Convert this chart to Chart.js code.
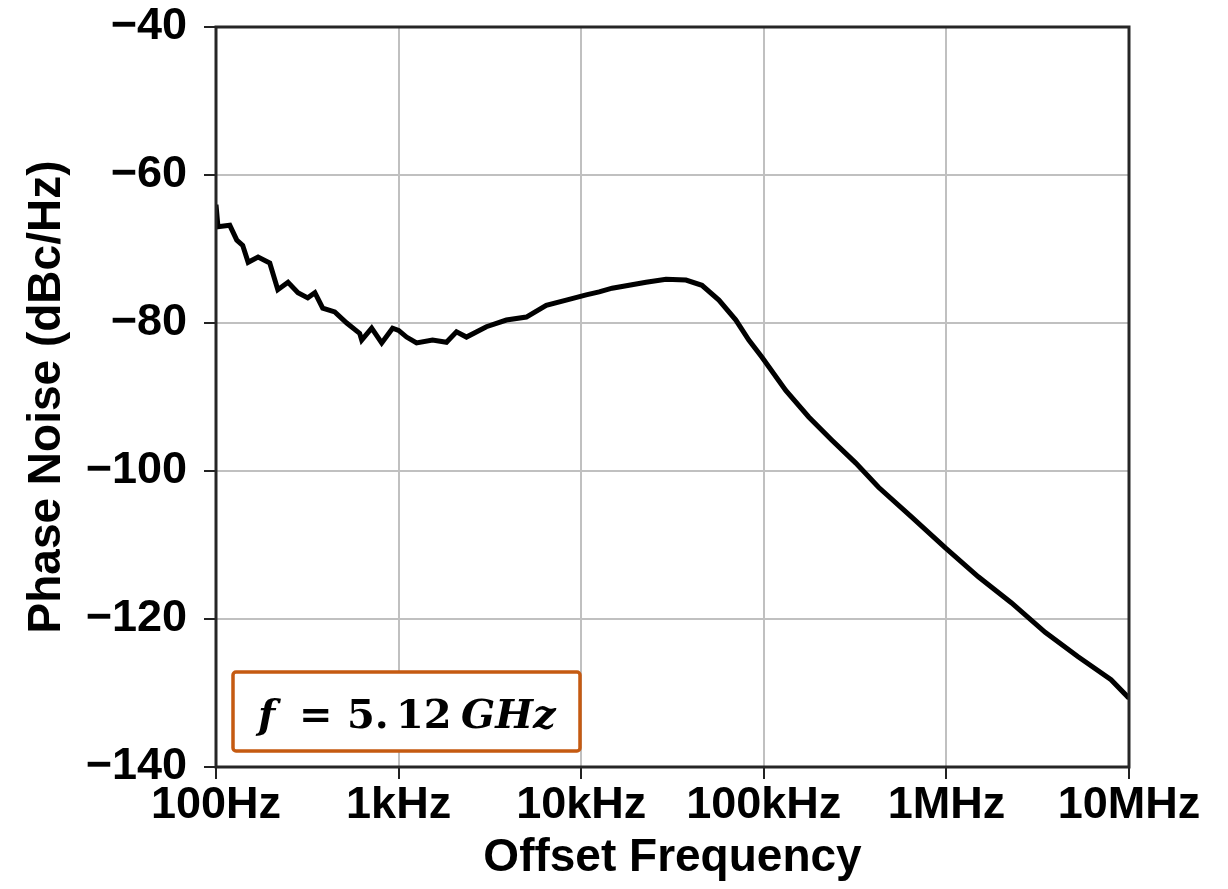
<!DOCTYPE html>
<html>
<head>
<meta charset="utf-8">
<script src="https://cdn.jsdelivr.net/npm/chart.js@4"></script>
<style>
  html, body { margin: 0; padding: 0; background: #fff; }
  #wrap { width: 1228px; height: 889px; }
</style>
</head>
<body>
<div id="wrap"><canvas id="pnChart" width="1228" height="889"></canvas></div>
<script>
// offset frequency (Hz) and measured phase noise (dBc/Hz)
const freqs = [100, 102.5, 119, 130, 140, 150, 170, 197, 218, 248, 281, 318, 348, 384, 447, 520, 612, 628, 712, 808, 927,
    1000, 1106, 1254, 1534, 1829, 2075, 2353, 3026, 3892, 5006, 6437, 8279, 10650, 12540, 14770, 22660, 29140, 37480,
    45840, 56770, 70310, 82790, 97520, 131900, 176200, 235300, 318200, 425000, 643700, 987400, 1496000, 2266000,
    3475000, 5264000, 7973000, 10000000];
const phaseNoise = [-64, -67.0, -66.8, -68.8, -69.5, -71.8, -71.1, -71.9, -75.5, -74.5, -75.9, -76.6, -75.9, -78.0, -78.5,
    -80.0, -81.4, -82.3, -80.7, -82.7, -80.7, -81.0, -81.9, -82.7, -82.3, -82.6, -81.2, -81.9, -80.5, -79.6, -79.2,
    -77.6, -76.9, -76.2, -75.8, -75.3, -74.5, -74.1, -74.2, -74.9, -76.9, -79.6, -82.3, -84.6, -89.1, -92.7, -95.8,
    -98.9, -102.2, -106.2, -110.4, -114.3, -117.8, -121.8, -125.1, -128.2, -130.7];

const xTickValues = [100, 1000, 10000, 100000, 1000000, 10000000];
const xTickLabels = ["100Hz", "1kHz", "10kHz", "100kHz", "1MHz", "10MHz"];
const yTickValues = [-140, -120, -100, -80, -60, -40];

const labelFont = { family: '"Liberation Sans", Arial, sans-serif', size: 45, weight: 'bold' };
const titleFont = { family: '"Liberation Sans", Arial, sans-serif', size: 46, weight: 'bold' };

// box around the plot area
const framePlugin = {
    id: 'frame',
    afterDatasetsDraw(chart) {
        const { ctx, chartArea: a } = chart;
        ctx.save();
        ctx.strokeStyle = '#262626';
        ctx.lineWidth = 3;
        ctx.strokeRect(a.left, a.top, a.right - a.left, a.bottom - a.top);
        ctx.restore();
    }
};

// "f = 5.12 GHz" label box in the lower left corner
const noteBox = {
    id: 'noteBox',
    afterDraw(chart) {
        const { ctx, chartArea: a } = chart;
        const x = a.left + 17, y = a.bottom - 95, w = 347, h = 79;
        ctx.save();
        ctx.fillStyle = '#fff';
        ctx.strokeStyle = '#c55a11';
        ctx.lineWidth = 3.5;
        ctx.beginPath();
        ctx.roundRect(x, y, w, h, 3);
        ctx.fill();
        ctx.stroke();

        // math-style spacing, like an equation object
        const fam = '"DejaVu Serif", "Liberation Serif", serif';
        const parts = [
            { t: 'f', style: 'italic bold', dx: 25 },
            { t: '=', style: 'bold', dx: 66 },
            { t: '5.', style: 'bold', dx: 114 },
            { t: '12', style: 'bold', dx: 163 },
            { t: 'GHz', style: 'italic bold', dx: 228 }
        ];
        ctx.fillStyle = '#000';
        ctx.textBaseline = 'alphabetic';
        parts.forEach(p => {
            ctx.font = `${p.style} 40px ${fam}`;
            ctx.fillText(p.t, x + p.dx, y + 56);
        });
        ctx.restore();
    }
};

const ctx = document.getElementById('pnChart').getContext('2d');
new Chart(ctx, {
    type: 'line',
    data: {
        datasets: [{
            data: freqs.map((f, i) => ({ x: f, y: phaseNoise[i] })),
            borderColor: '#000',
            borderWidth: 5,
            pointRadius: 0,
            tension: 0,
            fill: false
        }]
    },
    options: {
        responsive: false,
        animation: false,
        layout: { padding: { top: 27, right: 99, left: 0, bottom: 0 } },
        plugins: {
            legend: { display: false },
            tooltip: { enabled: false }
        },
        scales: {
            x: {
                type: 'logarithmic',
                min: 100,
                max: 10000000,
                afterBuildTicks(scale) {
                    scale.ticks = xTickValues.map(v => ({ value: v }));
                },
                afterFit(scale) {
                    scale.height = 122;
                    scale.paddingLeft = 0;
                    scale.paddingRight = 0;
                },
                ticks: {
                    autoSkip: false,
                    maxRotation: 0,
                    padding: 0,
                    color: '#000',
                    font: labelFont,
                    callback: (v, i) => xTickLabels[i]
                },
                grid: { color: '#c0c0c0', lineWidth: 2, tickColor: '#222', tickWidth: 2, tickLength: 12 },
                border: { display: false },
                title: { display: true, text: 'Offset Frequency', color: '#000', font: titleFont, padding: { top: 0, bottom: 3 } }
            },
            y: {
                min: -140,
                max: -40,
                afterBuildTicks(scale) {
                    scale.ticks = yTickValues.map(v => ({ value: v }));
                },
                afterFit(scale) {
                    scale.width = 216;
                    scale.paddingTop = 0;
                    scale.paddingBottom = 0;
                },
                ticks: {
                    padding: 17,
                    color: '#000',
                    font: labelFont,
                    callback: v => String(v).replace('-', '\u2212')
                },
                grid: { color: '#c0c0c0', lineWidth: 2, tickColor: '#222', tickWidth: 2, tickLength: 12 },
                border: { display: false },
                title: { display: true, text: 'Phase Noise (dBc/Hz)', color: '#000', font: titleFont, padding: { top: 20, bottom: 0 } }
            }
        }
    },
    plugins: [framePlugin, noteBox]
});
</script>
</body>
</html>
